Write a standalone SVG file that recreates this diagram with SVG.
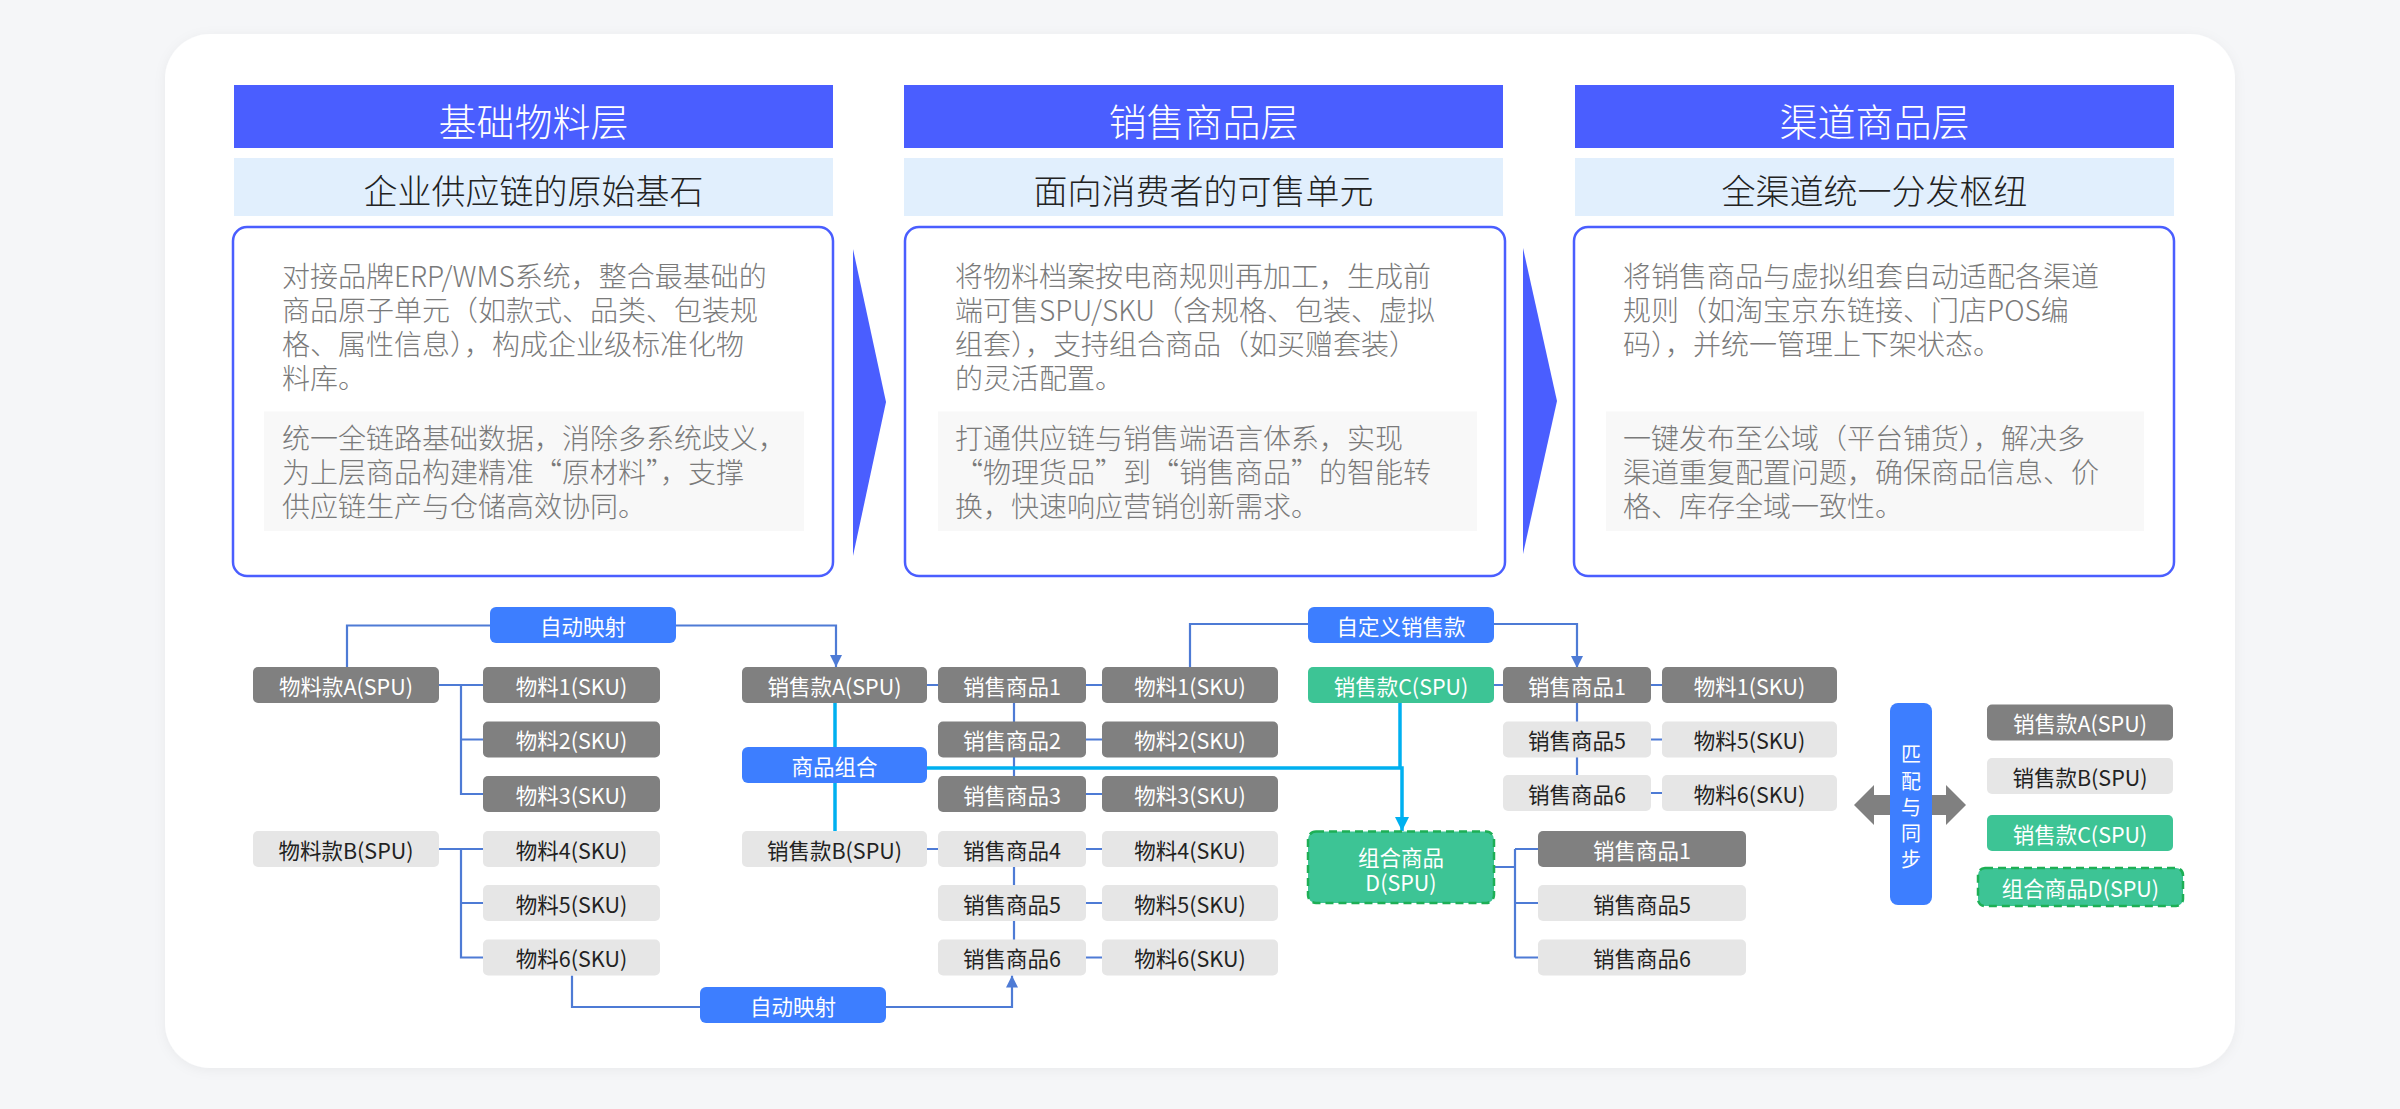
<svg xmlns="http://www.w3.org/2000/svg" width="2400" height="1109" viewBox="0 0 2400 1109">
<style>
text{font-family:"Noto Sans CJK SC","Noto Sans",sans-serif}
.hdr{fill:#4A5EFF}
.hdrT{fill:#fff;font-size:38px;font-weight:300;text-anchor:middle;dominant-baseline:central}
.sub{fill:#E1EFFD}
.subT{fill:#222;font-size:34px;font-weight:300;text-anchor:middle;dominant-baseline:central}
.box{fill:#fff;stroke:#4A5EFF;stroke-width:2.5}
.gbox{fill:#F8F8F8}
.body{fill:#7A7A7A;font-size:28px;font-weight:300}
.chev{fill:#4A5EFF}
.dk{fill:#808080}
.lt{fill:#E6E6E6}
.gr{fill:#3DC495}
.grd{fill:#3DC495;stroke:#1DAF55;stroke-width:2.5;stroke-dasharray:8 5}
.lbl{fill:#3D7EFF}
.nT{font-size:21.5px;text-anchor:middle;dominant-baseline:central}
.vT{fill:#fff;font-size:20px;text-anchor:middle;dominant-baseline:central}
.w{fill:#fff}
.k{fill:#222}
.ln{fill:none;stroke:#4E7BD5;stroke-width:2.2}
.cy{fill:none;stroke:#00B0F0;stroke-width:3.5}
</style>
<defs>
<filter id="sh" x="-5%" y="-5%" width="110%" height="110%">
<feDropShadow dx="0" dy="2" stdDeviation="6" flood-color="#000" flood-opacity="0.05"/>
</filter>
<marker id="aB" viewBox="0 0 12 12" refX="12" refY="6" markerWidth="12" markerHeight="12" markerUnits="userSpaceOnUse" orient="auto">
<path d="M0,0 L12,6 L0,12 z" fill="#4E7BD5"/>
</marker>
<marker id="aC" viewBox="0 0 14 14" refX="14" refY="7" markerWidth="14" markerHeight="14" markerUnits="userSpaceOnUse" orient="auto">
<path d="M0,0 L14,7 L0,14 z" fill="#00B0F0"/>
</marker>
</defs>

<rect x="0" y="0" width="2400" height="1109" fill="#F5F6F8"/>
<rect x="165" y="34" width="2070" height="1034" rx="45" fill="#fff" filter="url(#sh)"/>

<!-- Top columns -->
<g id="col1">
<rect class="hdr" x="234" y="85" width="599" height="63"/>
<text class="hdrT" x="533.5" y="119">基础物料层</text>
<rect class="sub" x="234" y="158" width="599" height="58"/>
<text class="subT" x="533.5" y="189">企业供应链的原始基石</text>
<rect class="box" x="233" y="227" width="600" height="349" rx="14"/>
<text class="body" x="282" y="286.5"><tspan x="282">对接品牌ERP/WMS系统，整合最基础的</tspan><tspan x="282" dy="34">商品原子单元（如款式、品类、包装规</tspan><tspan x="282" dy="34">格、属性信息），构成企业级标准化物</tspan><tspan x="282" dy="34">料库。</tspan></text>
<rect class="gbox" x="264" y="411.5" width="540" height="119.5"/>
<text class="body" x="282" y="449"><tspan x="282">统一全链路基础数据，消除多系统歧义，</tspan><tspan x="282" dy="34">为上层商品构建精准“原材料”，支撑</tspan><tspan x="282" dy="34">供应链生产与仓储高效协同。</tspan></text>
</g>

<g id="col2">
<rect class="hdr" x="904" y="85" width="599" height="63"/>
<text class="hdrT" x="1203.5" y="119">销售商品层</text>
<rect class="sub" x="904" y="158" width="599" height="58"/>
<text class="subT" x="1203.5" y="189">面向消费者的可售单元</text>
<rect class="box" x="905" y="227" width="600" height="349" rx="14"/>
<text class="body" x="955" y="286.5"><tspan x="955">将物料档案按电商规则再加工，生成前</tspan><tspan x="955" dy="34">端可售SPU/SKU（含规格、包装、虚拟</tspan><tspan x="955" dy="34">组套），支持组合商品（如买赠套装）</tspan><tspan x="955" dy="34">的灵活配置。</tspan></text>
<rect class="gbox" x="938" y="411.5" width="539" height="119.5"/>
<text class="body" x="955" y="449"><tspan x="955">打通供应链与销售端语言体系，实现</tspan><tspan x="955" dy="34">“物理货品”到“销售商品”的智能转</tspan><tspan x="955" dy="34">换，快速响应营销创新需求。</tspan></text>
</g>

<g id="col3">
<rect class="hdr" x="1575" y="85" width="599" height="63"/>
<text class="hdrT" x="1874.5" y="119">渠道商品层</text>
<rect class="sub" x="1575" y="158" width="599" height="58"/>
<text class="subT" x="1874.5" y="189">全渠道统一分发枢纽</text>
<rect class="box" x="1574" y="227" width="600" height="349" rx="14"/>
<text class="body" x="1623" y="286.5"><tspan x="1623">将销售商品与虚拟组套自动适配各渠道</tspan><tspan x="1623" dy="34">规则（如淘宝京东链接、门店POS编</tspan><tspan x="1623" dy="34">码），并统一管理上下架状态。</tspan></text>
<rect class="gbox" x="1606" y="411.5" width="538" height="119.5"/>
<text class="body" x="1623" y="449"><tspan x="1623">一键发布至公域（平台铺货），解决多</tspan><tspan x="1623" dy="34">渠道重复配置问题，确保商品信息、价</tspan><tspan x="1623" dy="34">格、库存全域一致性。</tspan></text>
</g>

<g id="chevrons">
<polygon class="chev" points="853,249 886,402 853,556"/>
<polygon class="chev" points="1523,248 1557,401 1523,554"/>
</g>

<!-- Connectors -->
<g id="connectors">
<path class="ln" d="M439,685 H483 M461,685 V794 H483 M461,739.5 H483"/>
<path class="ln" d="M439,849 H483 M461,849 V957.5 H483 M461,903 H483"/>
<path class="ln" d="M490,625.5 H347 V667"/>
<path class="ln" d="M676,625.5 H836 V667" marker-end="url(#aB)"/>
<path class="ln" d="M572,975.5 V1007 H700"/>
<path class="ln" d="M886,1007 H1012 V975.5" marker-end="url(#aB)"/>
<path class="ln" d="M927,685 H938 M927,849 H938"/>
<path class="ln" d="M1014,685 V794 M1014,849 V957.5"/>
<path class="ln" d="M1086,685 H1102 M1086,739.5 H1102 M1086,794 H1102 M1086,849 H1102 M1086,903 H1102 M1086,957.5 H1102"/>
<path class="ln" d="M1308,624 H1190 V667"/>
<path class="ln" d="M1494,624 H1577 V668" marker-end="url(#aB)"/>
<path class="ln" d="M1494,685 H1503 M1577,685 V793 M1651,685 H1662 M1651,739.5 H1662 M1651,793 H1662"/>
<path class="ln" d="M1494,867 H1515 M1515,849 V957.5 M1515,849 H1538 M1515,903 H1538 M1515,957.5 H1538"/>
<path class="cy" d="M835,703 V831"/>
<path class="cy" d="M1400,703 V768"/>
<path class="cy" d="M927,768 H1402 V831" marker-end="url(#aC)"/>
<polygon points="1854,805 1874,785 1874,795 1946,795 1946,785 1966,805 1946,825 1946,815 1874,815 1874,825" fill="#808080"/>
</g>

<!-- Labels -->
<g id="lbl-auto1"><rect class="lbl" x="490" y="607" width="186" height="36" rx="6"/><text class="nT w" x="583" y="625">自动映射</text></g>
<g id="lbl-auto2"><rect class="lbl" x="700" y="987" width="186" height="36" rx="6"/><text class="nT w" x="793" y="1005">自动映射</text></g>
<g id="lbl-custom"><rect class="lbl" x="1308" y="607" width="186" height="36" rx="6"/><text class="nT w" x="1401" y="625">自定义销售款</text></g>
<g id="lbl-combo"><rect class="lbl" x="742" y="747" width="185" height="36" rx="6"/><text class="nT w" x="834.5" y="765">商品组合</text></g>

<!-- Material SPU -->
<g id="m-spu-a"><rect class="dk" x="253" y="667" width="186" height="36" rx="5"/><text class="nT w" x="346" y="685">物料款A(SPU)</text></g>
<g id="m-spu-b"><rect class="lt" x="253" y="831" width="186" height="36" rx="5"/><text class="nT k" x="346" y="849">物料款B(SPU)</text></g>
<!-- Material SKU -->
<g id="m-sku-1"><rect class="dk" x="483" y="667" width="177" height="36" rx="5"/><text class="nT w" x="571.5" y="685">物料1(SKU)</text></g>
<g id="m-sku-2"><rect class="dk" x="483" y="721.5" width="177" height="36" rx="5"/><text class="nT w" x="571.5" y="739.5">物料2(SKU)</text></g>
<g id="m-sku-3"><rect class="dk" x="483" y="776" width="177" height="36" rx="5"/><text class="nT w" x="571.5" y="794">物料3(SKU)</text></g>
<g id="m-sku-4"><rect class="lt" x="483" y="831" width="177" height="36" rx="5"/><text class="nT k" x="571.5" y="849">物料4(SKU)</text></g>
<g id="m-sku-5"><rect class="lt" x="483" y="885" width="177" height="36" rx="5"/><text class="nT k" x="571.5" y="903">物料5(SKU)</text></g>
<g id="m-sku-6"><rect class="lt" x="483" y="939.5" width="177" height="36" rx="5"/><text class="nT k" x="571.5" y="957.5">物料6(SKU)</text></g>

<!-- Sales SPU -->
<g id="s-spu-a"><rect class="dk" x="742" y="667" width="185" height="36" rx="5"/><text class="nT w" x="834.5" y="685">销售款A(SPU)</text></g>
<g id="s-spu-b"><rect class="lt" x="742" y="831" width="185" height="36" rx="5"/><text class="nT k" x="834.5" y="849">销售款B(SPU)</text></g>
<!-- Sales items -->
<g id="s-item-1"><rect class="dk" x="938" y="667" width="148" height="36" rx="5"/><text class="nT w" x="1012" y="685">销售商品1</text></g>
<g id="s-item-2"><rect class="dk" x="938" y="721.5" width="148" height="36" rx="5"/><text class="nT w" x="1012" y="739.5">销售商品2</text></g>
<g id="s-item-3"><rect class="dk" x="938" y="776" width="148" height="36" rx="5"/><text class="nT w" x="1012" y="794">销售商品3</text></g>
<g id="s-item-4"><rect class="lt" x="938" y="831" width="148" height="36" rx="5"/><text class="nT k" x="1012" y="849">销售商品4</text></g>
<g id="s-item-5"><rect class="lt" x="938" y="885" width="148" height="36" rx="5"/><text class="nT k" x="1012" y="903">销售商品5</text></g>
<g id="s-item-6"><rect class="lt" x="938" y="939.5" width="148" height="36" rx="5"/><text class="nT k" x="1012" y="957.5">销售商品6</text></g>
<!-- Material SKU (2nd) -->
<g id="m2-sku-1"><rect class="dk" x="1102" y="667" width="176" height="36" rx="5"/><text class="nT w" x="1190" y="685">物料1(SKU)</text></g>
<g id="m2-sku-2"><rect class="dk" x="1102" y="721.5" width="176" height="36" rx="5"/><text class="nT w" x="1190" y="739.5">物料2(SKU)</text></g>
<g id="m2-sku-3"><rect class="dk" x="1102" y="776" width="176" height="36" rx="5"/><text class="nT w" x="1190" y="794">物料3(SKU)</text></g>
<g id="m2-sku-4"><rect class="lt" x="1102" y="831" width="176" height="36" rx="5"/><text class="nT k" x="1190" y="849">物料4(SKU)</text></g>
<g id="m2-sku-5"><rect class="lt" x="1102" y="885" width="176" height="36" rx="5"/><text class="nT k" x="1190" y="903">物料5(SKU)</text></g>
<g id="m2-sku-6"><rect class="lt" x="1102" y="939.5" width="176" height="36" rx="5"/><text class="nT k" x="1190" y="957.5">物料6(SKU)</text></g>

<!-- Custom sales -->
<g id="s-spu-c"><rect class="gr" x="1308" y="667" width="186" height="36" rx="5"/><text class="nT w" x="1401" y="685">销售款C(SPU)</text></g>
<g id="combo-d"><rect class="grd" x="1308" y="831.5" width="186" height="71.5" rx="8"/><text class="nT w" x="1401" y="855.5"><tspan x="1401">组合商品</tspan><tspan x="1401" dy="25">D(SPU)</tspan></text></g>
<g id="c-item-1"><rect class="dk" x="1503" y="667" width="148" height="36" rx="5"/><text class="nT w" x="1577" y="685">销售商品1</text></g>
<g id="c-item-5"><rect class="lt" x="1503" y="721.5" width="148" height="36" rx="5"/><text class="nT k" x="1577" y="739.5">销售商品5</text></g>
<g id="c-item-6"><rect class="lt" x="1503" y="775" width="148" height="36" rx="5"/><text class="nT k" x="1577" y="793">销售商品6</text></g>
<g id="c-mat-1"><rect class="dk" x="1662" y="667" width="175" height="36" rx="5"/><text class="nT w" x="1749.5" y="685">物料1(SKU)</text></g>
<g id="c-mat-5"><rect class="lt" x="1662" y="721.5" width="175" height="36" rx="5"/><text class="nT k" x="1749.5" y="739.5">物料5(SKU)</text></g>
<g id="c-mat-6"><rect class="lt" x="1662" y="775" width="175" height="36" rx="5"/><text class="nT k" x="1749.5" y="793">物料6(SKU)</text></g>
<g id="d-item-1"><rect class="dk" x="1538" y="831" width="208" height="36" rx="5"/><text class="nT w" x="1642" y="849">销售商品1</text></g>
<g id="d-item-5"><rect class="lt" x="1538" y="885" width="208" height="36" rx="5"/><text class="nT k" x="1642" y="903">销售商品5</text></g>
<g id="d-item-6"><rect class="lt" x="1538" y="939.5" width="208" height="36" rx="5"/><text class="nT k" x="1642" y="957.5">销售商品6</text></g>

<!-- Sync -->
<g id="sync">
<rect class="lbl" x="1890" y="703" width="42" height="202" rx="8"/>
<text class="vT" x="1911" y="753"><tspan x="1911">匹</tspan><tspan x="1911" dy="26.5">配</tspan><tspan x="1911" dy="26.5">与</tspan><tspan x="1911" dy="26">同</tspan><tspan x="1911" dy="25.5">步</tspan></text>
</g>

<!-- Channel legend -->
<g id="ch-a"><rect class="dk" x="1987" y="704.5" width="186" height="36" rx="5"/><text class="nT w" x="2080" y="722.5">销售款A(SPU)</text></g>
<g id="ch-b"><rect class="lt" x="1987" y="758" width="186" height="36" rx="5"/><text class="nT k" x="2080" y="776">销售款B(SPU)</text></g>
<g id="ch-c"><rect class="gr" x="1987" y="815" width="186" height="36" rx="5"/><text class="nT w" x="2080" y="833">销售款C(SPU)</text></g>
<g id="ch-d"><rect class="grd" x="1978" y="868" width="205" height="38" rx="7"/><text class="nT w" x="2080.5" y="887">组合商品D(SPU)</text></g>
</svg>
